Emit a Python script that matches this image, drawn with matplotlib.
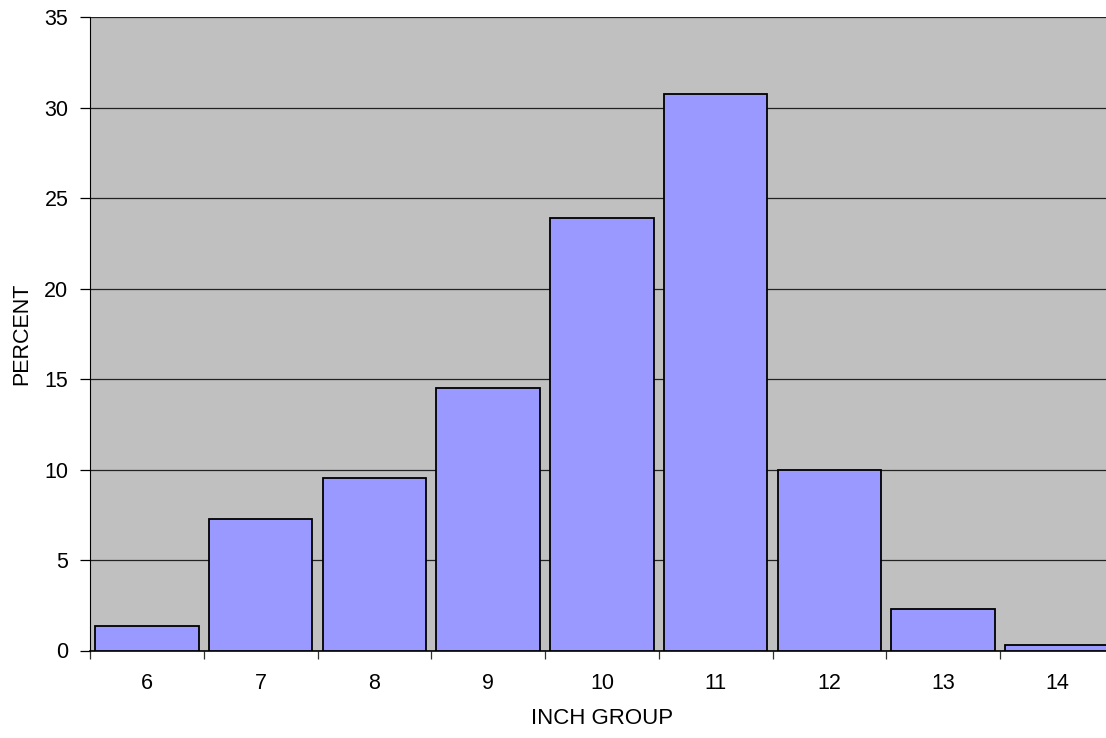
import matplotlib
matplotlib.use("Agg")
import matplotlib.pyplot as plt
import numpy as np

categories = ["6", "7", "8", "9", "10", "11", "12", "13", "14"]
percent = [1.35, 7.27, 9.53, 14.5, 23.88, 30.77, 9.95, 2.28, 0.33]

plt.rcParams['font.family'] = ['Liberation Sans', 'DejaVu Sans']

fig = plt.figure(figsize=(11.06, 7.38), dpi=100)
ax = fig.add_axes([90/1106, (738-650.5)/738, 1023.75/1106, 633.5/738])
ax.set_facecolor('#C0C0C0')

x = np.arange(len(categories))
ax.bar(x, percent, width=0.91, color='#9999FF', edgecolor='black', linewidth=1.3, zorder=3)

ax.set_xlim(-0.5, len(categories) - 0.5)
ax.set_ylim(0, 35)
ax.set_yticks(np.arange(0, 36, 5))
ax.yaxis.grid(True, color='#222222', linewidth=0.9, zorder=0)
ax.set_axisbelow(True)

ax.set_xticks(x)
ax.set_xticklabels(categories)
ax.set_xticks(np.arange(-0.5, len(categories), 1), minor=True)
ax.tick_params(axis='x', which='major', length=0, pad=16, labelsize=15.5)
ax.tick_params(axis='x', which='minor', length=6, width=0.9, color='#333333')
ax.tick_params(axis='y', length=7, width=0.9, labelsize=15.5, pad=8.5)

for s in ['top', 'right']:
    ax.spines[s].set_visible(False)
ax.spines['left'].set_color('black')
ax.spines['bottom'].set_color('black')
ax.spines['bottom'].set_linewidth(1.2)

ax.set_xlabel('INCH GROUP', fontsize=16, labelpad=10)
ax.set_ylabel('PERCENT', fontsize=15.5, labelpad=9)

fig.savefig('out.png', dpi=100)
